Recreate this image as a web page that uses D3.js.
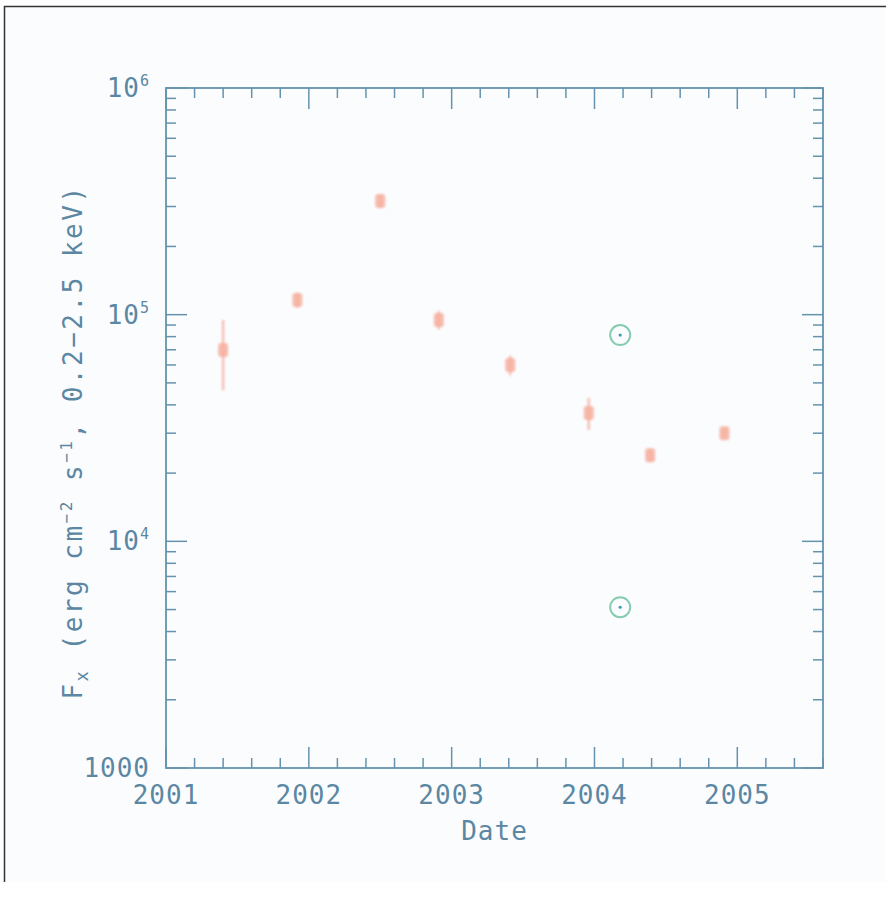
<!DOCTYPE html>
<html>
<head>
<meta charset="utf-8">
<script src="https://cdn.jsdelivr.net/npm/d3@7"></script>
<style>
  html, body { margin: 0; padding: 0; background: #fff; }
  svg { display: block; }
  text { font-family: "DejaVu Sans Mono", "Liberation Mono", monospace; fill: #5b87a3; }
</style>
</head>
<body>
<div id="chart"></div>
<script>
// X-ray light curve, log flux vs date
const dates  = [2001.40, 2001.92, 2002.50, 2002.91, 2003.41, 2003.96, 2004.39, 2004.91];
const flux   = [69800, 116000, 317000, 94700, 60000, 36800, 24000, 30000];
const fluxLo = [46400, 107000, 298000, 86000, 54000, 31000, 22500, 28700];
const fluxHi = [94600, 125000, 336000, 104000, 66000, 43000, 25500, 31300];

// the two circled points
const circleDates = [2004.18, 2004.18];
const circleFlux  = [81300, 5120];

const xTicks = [2001, 2002, 2003, 2004, 2005];
const yTicks = [1000, 1e4, 1e5, 1e6];

const W = 889, H = 910;
const margin = {top: 88, left: 166, right: 66, bottom: 142};
const width = W - margin.left - margin.right;
const height = H - margin.top - margin.bottom;

const axisColor = '#6593ae';
const dataColor = '#f5ab98';

const x = d3.scaleLinear().domain([2001, 2005.6]).range([0, width]);
const y = d3.scaleLog().domain([1000, 1e6]).range([height, 0]);

const svg = d3.select('#chart').append('svg')
    .attr('width', W)
    .attr('height', H);

// page background + frame
svg.append('rect')
    .attr('x', 4).attr('y', 6)
    .attr('width', 882).attr('height', 876)
    .attr('fill', '#fbfcfe');
svg.append('path')
    .attr('d', 'M4.5,882 V6.5 H886')
    .attr('fill', 'none')
    .attr('stroke', '#333')
    .attr('stroke-width', 1.5);

const defs = svg.append('defs');
defs.append('filter').attr('id', 'soft')
    .append('feGaussianBlur').attr('stdDeviation', 1.3);

const g = svg.append('g')
    .attr('transform', `translate(${margin.left},${margin.top})`);

// ticks
const minorX = d3.range(2001, 2005.61, 0.2).map(v => +v.toFixed(1));
const majorLen = 21, minorLen = 10;

const tickG = g.append('g').attr('stroke', axisColor).attr('stroke-width', 1.5);

minorX.forEach(v => {
    const isMajor = Math.abs(v - Math.round(v)) < 1e-6;
    const len = isMajor ? majorLen : minorLen;
    tickG.append('line')
        .attr('x1', x(v)).attr('x2', x(v))
        .attr('y1', height).attr('y2', height - len);
    tickG.append('line')
        .attr('x1', x(v)).attr('x2', x(v))
        .attr('y1', 0).attr('y2', len);
});

const minorY = [];
for (let d = 1000; d < 1e6; d *= 10) {
    for (let m = 2; m <= 9; m++) minorY.push(d * m);
}
minorY.forEach(v => {
    tickG.append('line')
        .attr('x1', 0).attr('x2', minorLen)
        .attr('y1', y(v)).attr('y2', y(v));
    tickG.append('line')
        .attr('x1', width).attr('x2', width - minorLen)
        .attr('y1', y(v)).attr('y2', y(v));
});
yTicks.forEach(v => {
    tickG.append('line')
        .attr('x1', 0).attr('x2', majorLen)
        .attr('y1', y(v)).attr('y2', y(v));
    tickG.append('line')
        .attr('x1', width).attr('x2', width - majorLen)
        .attr('y1', y(v)).attr('y2', y(v));
});

// frame
g.append('rect')
    .attr('width', width).attr('height', height)
    .attr('fill', 'none')
    .attr('stroke', axisColor)
    .attr('stroke-width', 1.8);

// x tick labels
g.append('g').selectAll('text')
    .data(xTicks)
    .join('text')
    .attr('x', d => x(d))
    .attr('y', height + 36)
    .attr('text-anchor', 'middle')
    .style('font-size', '26px')
    .style('letter-spacing', '1px')
    .text(d => d);

// y tick labels
const yl = g.append('g').selectAll('text')
    .data(yTicks)
    .join('text')
    .attr('x', -16)
    .attr('y', d => y(d) + 9)
    .attr('text-anchor', 'end')
    .style('font-size', '26px')
    .style('letter-spacing', '1px');
yl.each(function (d) {
    const t = d3.select(this);
    if (d === 1000) {
        t.text('1000');
    } else {
        t.text('10');
        t.append('tspan')
            .attr('dy', -11)
            .style('font-size', '15px')
            .text(Math.round(Math.log10(d)));
    }
});

// axis titles
g.append('text')
    .attr('x', width / 2)
    .attr('y', height + 72)
    .attr('text-anchor', 'middle')
    .style('font-size', '26px')
    .style('letter-spacing', '1px')
    .text('Date');

const yt = g.append('text')
    .attr('transform', `translate(${-84},${height / 2 + 14}) rotate(-90)`)
    .attr('text-anchor', 'middle')
    .style('font-size', '26px')
    .style('letter-spacing', '2.5px');
yt.append('tspan').text('F');
yt.append('tspan').attr('dy', 6).style('font-size', '17px').text('x');
yt.append('tspan').attr('dy', -6).text(' (erg cm');
yt.append('tspan').attr('dy', -10).style('font-size', '16px').text('\u22122');
yt.append('tspan').attr('dy', 10).text(' s');
yt.append('tspan').attr('dy', -10).style('font-size', '16px').text('\u22121');
yt.append('tspan').attr('dy', 10).text(', 0.2\u22122.5 keV)');

// data points
const pts = dates.map((d, i) => ({date: d, f: flux[i], lo: fluxLo[i], hi: fluxHi[i]}));
const dataG = g.append('g').attr('filter', 'url(#soft)');

dataG.selectAll('line.err')
    .data(pts)
    .join('line')
    .attr('class', 'err')
    .attr('x1', d => x(d.date)).attr('x2', d => x(d.date))
    .attr('y1', d => y(d.hi)).attr('y2', d => y(d.lo))
    .attr('stroke', dataColor)
    .attr('stroke-width', 2.5)
    .attr('opacity', 0.75);

dataG.selectAll('rect.pt')
    .data(pts)
    .join('rect')
    .attr('class', 'pt')
    .attr('x', d => x(d.date) - 5)
    .attr('y', d => y(d.f) - 7)
    .attr('width', 10)
    .attr('height', 14)
    .attr('rx', 3)
    .attr('fill', dataColor)
    .attr('opacity', 0.8);

// green circled points
const circ = circleDates.map((d, i) => ({date: d, f: circleFlux[i]}));
const cg = g.append('g');
cg.selectAll('circle.ring')
    .data(circ)
    .join('circle')
    .attr('class', 'ring')
    .attr('cx', d => x(d.date))
    .attr('cy', d => y(d.f))
    .attr('r', 10)
    .attr('fill', 'none')
    .attr('stroke', '#86cdb0')
    .attr('stroke-width', 2);
cg.selectAll('circle.dot')
    .data(circ)
    .join('circle')
    .attr('class', 'dot')
    .attr('cx', d => x(d.date))
    .attr('cy', d => y(d.f))
    .attr('r', 1.6)
    .attr('fill', '#3f9ab8');
</script>
</body>
</html>
